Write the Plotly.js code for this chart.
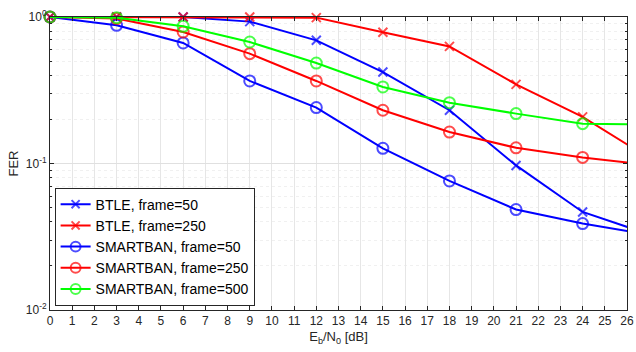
<!DOCTYPE html>
<html><head><meta charset="utf-8">
<script src="https://cdn.plot.ly/plotly-3.0.1.min.js"></script>
<style>html,body{margin:0;padding:0;background:#fff}#c{width:636px;height:352px}</style>
</head><body><div id="c"></div>
<script>
const snr = [0, 3, 6, 9, 12, 15, 18, 21, 24, 27];
const btle50 = [1.0, 1.0, 1.0, 0.93, 0.693, 0.421, 0.231, 0.097, 0.0467, 0.0328];
const btle250 = [1.0, 1.0, 1.0, 1.0, 0.99, 0.786, 0.63, 0.347, 0.208, 0.109];
const smart50 = [1.0, 0.878, 0.665, 0.366, 0.241, 0.127, 0.076, 0.0485, 0.0389, 0.0327];
const smart250 = [1.0, 0.975, 0.79, 0.562, 0.366, 0.231, 0.164, 0.128, 0.110, 0.0975];
const smart500 = [1.0, 0.99, 0.864, 0.675, 0.485, 0.333, 0.26, 0.219, 0.187, 0.184];
const names = ["BTLE, frame=50", "BTLE, frame=250", "SMARTBAN, frame=50", "SMARTBAN, frame=250", "SMARTBAN, frame=500"];
const xTicks = Array.from({length: 27}, (_, i) => i);
const xMax = 26;
const yTickVals = [0.01, 0.1, 1];
const yTickText = ["10<sup>-2</sup>", "10<sup>-1</sup>", "10<sup>0</sup>"];
const minorVals = [];
[0.01, 0.1].forEach(b => { for (let k = 2; k <= 9; k++) minorVals.push(b * k); });

function tr(y, name, color, sym, msize) {
  // markers beyond the visible x range are hidden (line still runs off the edge)
  const sizes = snr.map(v => v > xMax ? 0 : msize);
  return {x: snr, y: y, name: name, type: 'scatter', mode: 'lines+markers', cliponaxis: false,
    line: {color: color, width: 2},
    marker: {symbol: sym, size: sizes, color: color, line: {color: color, width: 2}}};
}
const data = [
  tr(btle50, names[0], '#0000ff', 'x-thin-open', 9),
  tr(btle250, names[1], '#ff0000', 'x-thin-open', 9),
  tr(smart50, names[2], '#0000ff', 'circle-open', 11),
  tr(smart250, names[3], '#ff0000', 'circle-open', 11),
  tr(smart500, names[4], '#00ff00', 'circle-open', 11)
];
const axcol = '#262626';
const layout = {
  width: 636, height: 352,
  margin: {l: 50, r: 9, t: 17, b: 42},
  paper_bgcolor: '#fff', plot_bgcolor: '#fff',
  font: {family: 'Liberation Sans, Arial, sans-serif', size: 12, color: axcol},
  showlegend: true,
  legend: {x: 0.008, y: 0.015, xanchor: 'left', yanchor: 'bottom',
    bgcolor: '#fff', bordercolor: axcol, borderwidth: 1,
    font: {size: 14, color: '#000'}, itemwidth: 30, tracegroupgap: 0},
  xaxis: {range: [0, xMax], tickvals: xTicks, ticktext: xTicks.map(String),
    ticks: 'inside', ticklen: 4, tickcolor: axcol, showline: true, linecolor: axcol, linewidth: 1,
    mirror: 'ticks', showgrid: true, gridcolor: '#e6e6e6', zeroline: false,
    tickfont: {size: 12, color: axcol},
    title: {text: 'E<sub>b</sub>/N<sub>0</sub> [dB]', font: {size: 13, color: axcol}, standoff: 4}},
  yaxis: {type: 'log', range: [-2, 0], tickvals: yTickVals, ticktext: yTickText,
    ticks: 'inside', ticklen: 4, tickcolor: axcol, showline: true, linecolor: axcol, linewidth: 1,
    mirror: 'ticks', showgrid: true, gridcolor: '#e0e0e0', zeroline: false,
    tickfont: {size: 12, color: axcol},
    minor: {tickvals: minorVals, ticks: 'inside', ticklen: 2, tickcolor: axcol, showgrid: true, gridcolor: '#f0f0f0', griddash: 'dot'},
    title: {text: 'FER', font: {size: 13, color: axcol}, standoff: 4}}
};
Plotly.newPlot('c', data, layout, {displayModeBar: false, staticPlot: true});
</script></body></html>
